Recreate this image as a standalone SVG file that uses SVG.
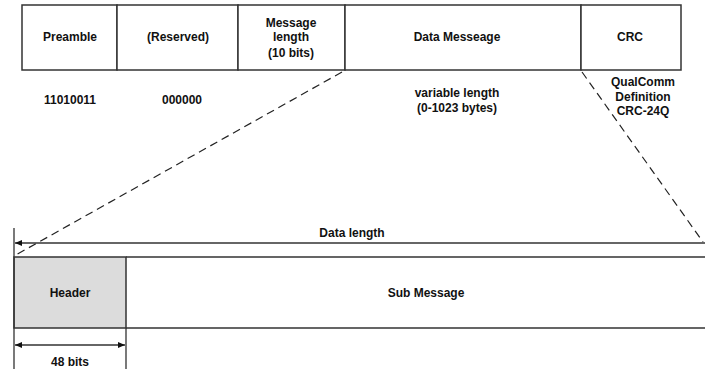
<svg xmlns="http://www.w3.org/2000/svg" width="705" height="371" viewBox="0 0 705 371">
<style>
.t{font-family:"Liberation Sans",Arial,sans-serif;font-weight:bold;font-size:12px;fill:#111;text-anchor:middle}
.box{fill:#fff;stroke:#333;stroke-width:1.5}
.ln{stroke:#333;stroke-width:1.3;fill:none}
.dash{stroke:#222;stroke-width:1.2;fill:none;stroke-dasharray:8,5}
</style>
<defs>
<marker id="ah" markerWidth="8" markerHeight="8" refX="7" refY="4" orient="auto-start-reverse" markerUnits="userSpaceOnUse">
<path d="M0,1 L7,4 L0,7 Z" fill="#111"/>
</marker>
</defs>
<rect x="0" y="0" width="705" height="371" fill="#fff"/>
<g id="preamble"><rect class="box" x="22" y="5" width="95" height="65"/><text class="t" x="70" y="41">Preamble</text><text class="t" x="70" y="104">11010011</text></g>
<g id="reserved"><rect class="box" x="117" y="5" width="121" height="65"/><text class="t" x="178" y="41">(Reserved)</text><text class="t" x="182" y="104">000000</text></g>
<g id="msglen"><rect class="box" x="238" y="5" width="107" height="65"/><text class="t" x="291" y="27">Message</text><text class="t" x="291" y="41">length</text><text class="t" x="291" y="57">(10 bits)</text></g>
<g id="data"><rect class="box" x="345" y="5" width="236" height="65"/><text class="t" x="457" y="41">Data Messeage</text><text class="t" x="457" y="97">variable length</text><text class="t" x="457" y="112">(0-1023 bytes)</text></g>
<g id="crc"><rect class="box" x="581" y="5" width="100" height="65"/><text class="t" x="630" y="41">CRC</text><text class="t" x="643" y="86">QualComm</text><text class="t" x="643" y="101">Definition</text><text class="t" x="643" y="115">CRC-24Q</text></g>
<g id="header"><rect x="14" y="257" width="112" height="71" fill="#dcdcdc" stroke="#333" stroke-width="1.5"/><text class="t" x="70" y="297">Header</text></g>
<g id="submsg"><path class="ln" d="M126,257 H705 M126,328 H705" stroke-width="1.5"/><text class="t" x="426" y="297">Sub Message</text></g>
<g id="connectors">
<path class="dash" d="M342,72 L14,256"/>
<path class="dash" d="M582,72 L703,242"/>
<path class="ln" d="M14,228 V369 M126,328 V369"/>
<path class="ln" d="M705,243 H15" marker-end="url(#ah)"/>
<path class="ln" d="M15,345 H125" marker-start="url(#ah)" marker-end="url(#ah)"/>
<text class="t" x="352" y="237">Data length</text>
<text class="t" x="70" y="366">48 bits</text>
</g>
</svg>
